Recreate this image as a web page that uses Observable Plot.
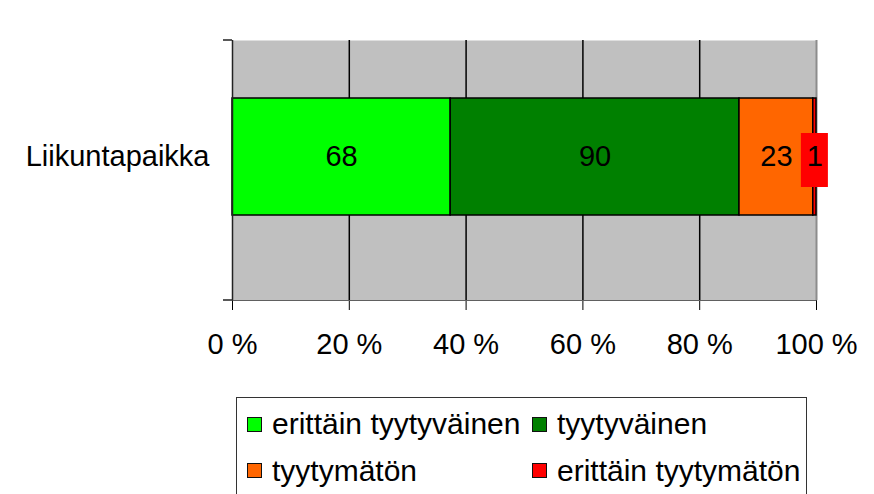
<!DOCTYPE html>
<html>
<head>
<meta charset="utf-8">
<script src="https://cdn.jsdelivr.net/npm/d3@7"></script>
<script src="https://cdn.jsdelivr.net/npm/@observablehq/plot@0.6"></script>
<style>
  html, body { margin: 0; padding: 0; background: white; overflow: hidden; }
  #wrap { position: relative; width: 874px; height: 494px; font-family: 'Liberation Sans', Arial, sans-serif; }
  #legend { position: absolute; left: 236px; top: 397px; width: 571px; height: 130px; border: 1.5px solid #333; box-sizing: border-box; }
  .item { position: absolute; display: flex; align-items: center; font-size: 30px; line-height: 1; color: black; white-space: nowrap; }
  .sw { width: 13px; height: 13px; border: 1.5px solid #111; margin-right: 10px; flex: none; }
</style>
</head>
<body>
<div id="wrap"><div id="chart"></div><div id="legend"></div></div>
<script>
const categories = ["Liikuntapaikka"];
const responses = ["erittäin tyytyväinen", "tyytyväinen", "tyytymätön", "erittäin tyytymätön"];
const counts = [68, 90, 23, 1];
const xTicks = [0, 20, 40, 60, 80, 100];
const colors = ["#00FF00", "#008000", "#FF6600", "#FF0000"];

const data = responses.map((key, i) => ({cat: categories[0], key, value: counts[i]}));

const s = Plot.stackX({x: "value", y: "cat", offset: "normalize"});
const boxTransform = (d, facets) => {
  const r = s.transform(d, facets);
  return {data: r.data, facets: r.facets.map(f => f.filter(i => r.data[i].key === responses[3]))};
};

const leftTicks = (index, scales, values, dims) => {
  const g = d3.create("svg:g");
  const {marginLeft: l, marginTop: t, height, marginBottom: b} = dims;
  [t, height - b].forEach(y => g.append("line")
    .attr("x1", l - 9).attr("x2", l).attr("y1", y).attr("y2", y)
    .attr("stroke", "#222").attr("stroke-width", 1.5));
  return g.node();
};

const chart = Plot.plot({
  width: 874,
  height: 365,
  marginTop: 40,
  marginBottom: 65,
  marginLeft: 232,
  marginRight: 58,
  style: {fontFamily: "'Liberation Sans', Arial, sans-serif", fontSize: "29px", color: "black", background: "white"},
  x: {domain: [0, 1], ticks: xTicks.map(d => d / 100), tickFormat: d => `${Math.round(d * 100)} %`, tickSize: 10, tickPadding: 23, line: true, label: null},
  y: {domain: categories, padding: 0.379, align: 0.406, tickSize: 0, tickPadding: 23, label: null},
  color: {domain: responses, range: colors},
  marks: [
    Plot.frame({fill: "#C0C0C0", stroke: "none"}),
    Plot.ruleX(xTicks.slice(1, -1).map(d => d / 100), {stroke: "black", strokeWidth: 1.5}),
    Plot.ruleX([1], {stroke: "#8c8c8c", strokeWidth: 2}),
    Plot.barX(data, Plot.stackX({x: "value", y: "cat", fill: "key", offset: "normalize", stroke: "black", strokeWidth: 1.5})),
    Plot.barX(data, {...s, transform: boxTransform, x1: s.x, x2: s.x, fill: colors[3], insetLeft: -13.5, insetRight: -13.5, insetTop: 35, insetBottom: 28}),
    Plot.text(data, Plot.stackX({x: "value", y: "cat", text: "value", offset: "normalize", fill: "black", fontSize: 29})),
    Plot.ruleX([0], {stroke: "#222", strokeWidth: 1.5}),
    leftTicks
  ]
});
document.getElementById("chart").appendChild(chart);

const legend = document.getElementById("legend");
const pos = [[10, 26], [295, 26], [10, 72.5], [295, 72.5]];
responses.forEach((r, i) => {
  const it = document.createElement("div");
  it.className = "item";
  it.style.left = pos[i][0] + "px";
  it.style.top = (pos[i][1] - 15) + "px";
  it.style.height = "30px";
  const sw = document.createElement("span");
  sw.className = "sw";
  sw.style.background = colors[i];
  const tx = document.createElement("span");
  tx.textContent = r;
  it.appendChild(sw);
  it.appendChild(tx);
  legend.appendChild(it);
});
</script>
</body>
</html>
